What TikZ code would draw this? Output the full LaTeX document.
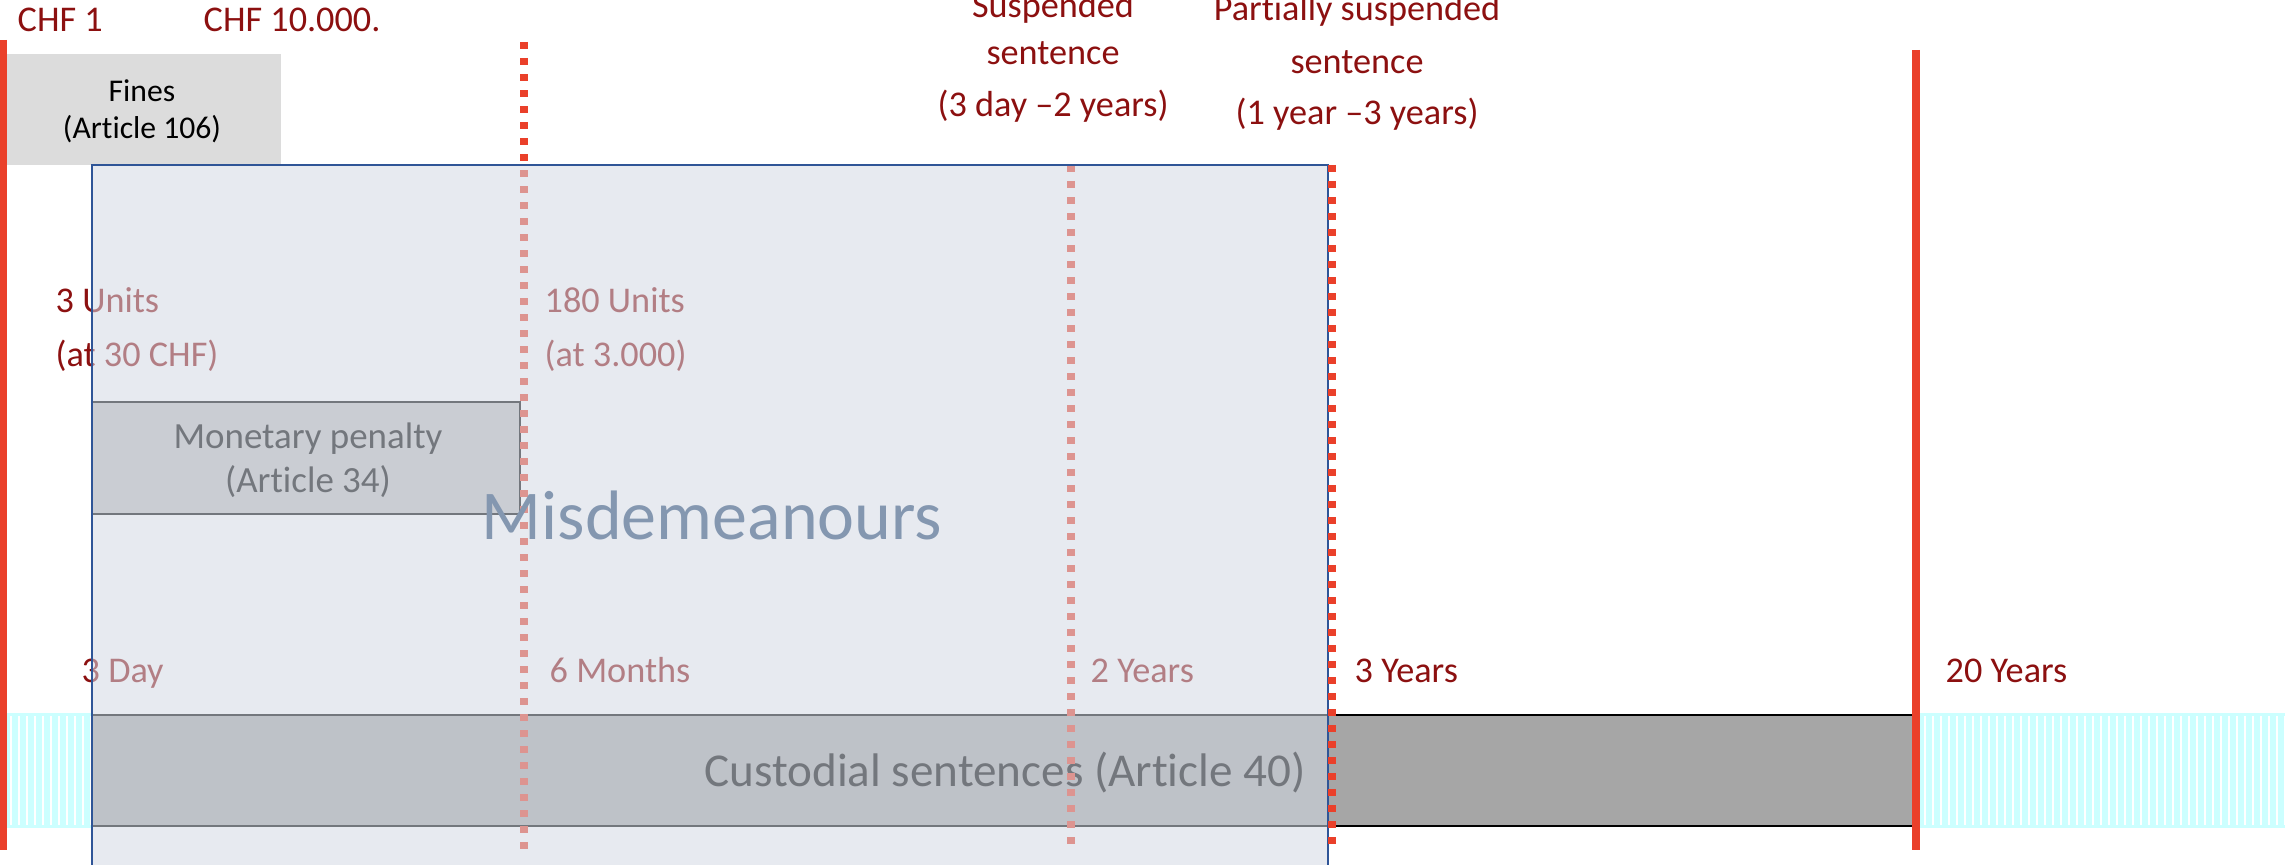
\documentclass[tikz,border=0pt]{standalone}
\usepackage{fontspec}
\setmainfont{Carlito}[RawFeature={-liga;-clig;-calt;-dlig}]

\definecolor{darkred}{RGB}{140,16,16}
\definecolor{linered}{RGB}{234,64,42}
\definecolor{boxblue}{RGB}{47,85,151}
\definecolor{misfill}{RGB}{211,217,228}
\definecolor{mistext}{RGB}{132,151,176}
\definecolor{finesgray}{RGB}{220,220,220}
\definecolor{monetgray}{RGB}{192,192,192}
\definecolor{custgray}{RGB}{166,166,166}
\definecolor{hatchcyan}{RGB}{204,255,255}

\begin{document}
\begin{tikzpicture}[x=0.01cm,y=-0.01cm,
  lbl/.style={inner sep=0pt, font=\fontsize{10.3}{12}\selectfont, text=darkred},
  boxtext/.style={inner sep=0pt, font=\fontsize{10.5}{12}\selectfont, text=black},
  redrule/.style={draw=linered, line width=2pt},
  dotrule/.style={draw=linered, line width=2.2pt, dash pattern=on 0.07cm off 0.09cm},
  hatchband/.style={fill=hatchcyan, draw=hatchcyan, line width=0.4pt},
  hatchgap/.style={draw=white, line width=0.75pt}]

\useasboundingbox (0,0) rectangle (2285,865);
\clip (0,0) rectangle (2285,865);

% ---- fines box
\fill[finesgray] (7,54) rectangle (281,165);
\node[boxtext, font=\fontsize{9}{11}\selectfont, anchor=base] (fines1) at (142,102) {Fines};
\node[boxtext, font=\fontsize{9}{11}\selectfont, anchor=base] (fines2) at (142,139) {(Article 106)};

% ---- hatched open ends of the time axis
\filldraw[hatchband] (7,714) rectangle (92,827);
\foreach \x in {11,19,...,91} \draw[hatchgap] (\x,716) -- (\x,825);
\filldraw[hatchband] (1920,714) rectangle (2290,827);
\foreach \x in {1925,1933,...,2285} \draw[hatchgap] (\x,716) -- (\x,825);

% ---- custodial sentences bar
\filldraw[fill=custgray, draw=black, line width=0.7pt] (92,715) rectangle (1916,826);
\node[boxtext, font=\fontsize{13.4}{15}\selectfont, anchor=base] (cust) at (1005,787) {Custodial sentences (Article 40)};

% ---- monetary penalty box
\filldraw[fill=monetgray, draw=black, line width=0.55pt] (92,402) rectangle (520,514);
\node[boxtext, anchor=base] (monet1) at (308,449) {Monetary penalty};
\node[boxtext, anchor=base] (monet2) at (308,493) {(Article 34)};

% ---- unit and duration labels
\node[lbl, anchor=base west] (u3a) at (55,313) {3 Units};
\node[lbl, anchor=base west] (u3b) at (55,367) {(at 30 CHF)};
\node[lbl, anchor=base west] (u180a) at (544,313) {180 Units};
\node[lbl, anchor=base west] (u180b) at (544,367) {(at 3.000)};
\node[lbl, anchor=base west] (d3) at (81,683) {3 Day};
\node[lbl, anchor=base west] (m6) at (549,683) {6 Months};
\node[lbl, anchor=base west] (y2) at (1090,683) {2 Years};

% ---- threshold markers
\coordinate (t1a) at (524,42);   \coordinate (t1b) at (524,850);
\coordinate (t2a) at (1071,165); \coordinate (t2b) at (1071,846);
\coordinate (t3a) at (1332,165); \coordinate (t3b) at (1332,850);
\draw[dotrule] (t1a) -- (t1b);
\draw[dotrule] (t2a) -- (t2b);

% ---- misdemeanours area (translucent)
\fill[misfill, fill opacity=0.55] (92,165) rectangle (1328,900);
\draw[boxblue, line width=0.6pt] (92,900) -- (92,165) -- (1328,165) -- (1328,900);
\node[inner sep=0pt, anchor=base, font=\fontsize{19.9}{22}\selectfont, text=mistext] (mis) at (712,540) {Misdemeanours};

\draw[dotrule] (t3a) -- (t3b);

% ---- solid limits
\coordinate (l0a) at (3.5,40);  \coordinate (l0b) at (3.5,850);
\coordinate (l20a) at (1916,50); \coordinate (l20b) at (1916,850);
\draw[redrule] (l0a) -- (l0b);
\draw[redrule, line width=2.3pt] (l20a) -- (l20b);

% ---- labels outside the area
\node[lbl, anchor=base west] (y3) at (1354,683) {3 Years};
\node[lbl, anchor=base west] (y20) at (1945,683) {20 Years};
\node[lbl, anchor=base west] (chf1) at (17,32) {CHF 1};
\node[lbl, anchor=base west] (chf2) at (203,32) {CHF 10.000.};

\node[lbl, anchor=base] (sus1) at (1053,18) {Suspended};
\node[lbl, anchor=base] (sus2) at (1053,65) {sentence};
\node[lbl, anchor=base] (sus3) at (1053,117) {(3 day –2 years)};
\node[lbl, anchor=base] (par1) at (1357,21) {Partially suspended};
\node[lbl, anchor=base] (par2) at (1357,74) {sentence};
\node[lbl, anchor=base] (par3) at (1357,125) {(1 year –3 years)};
\end{tikzpicture}
\end{document}
